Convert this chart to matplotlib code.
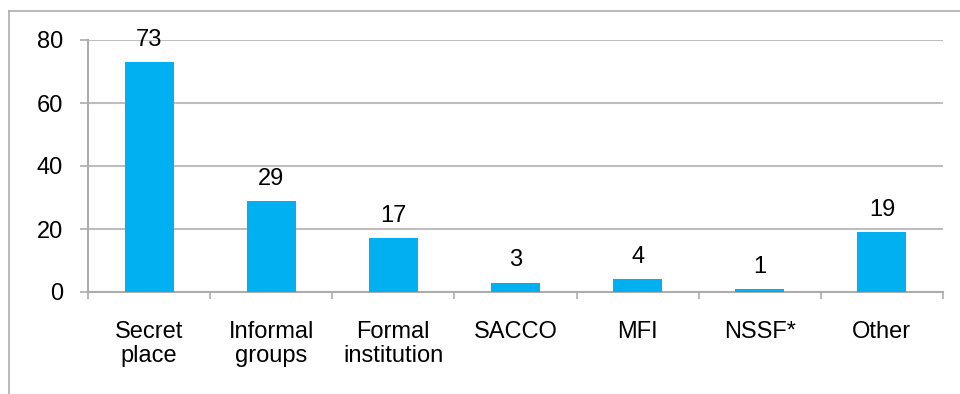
import matplotlib
import numpy as np
import matplotlib.pyplot as plt
from matplotlib.lines import Line2D

matplotlib.use('Agg')

categories = ['Secret\nplace', 'Informal\ngroups', 'Formal\ninstitution', 'SACCO', 'MFI', 'NSSF*', 'Other']
values = [73, 29, 17, 3, 4, 1, 19]
y_ticks = [0, 20, 40, 60, 80]

plt.rcParams['font.family'] = ['Liberation Sans', 'DejaVu Sans']

grey = '#ADADAD'
fs = 17
fig = plt.figure(figsize=(9.6, 3.94), dpi=100)
ax = fig.add_axes([88 / 960, 102 / 394, 855 / 960, 252 / 394])

x = np.arange(len(categories))
bars = ax.bar(x, values, width=0.4, color='#00B0F0', zorder=3)

# подписи значений над столбиками
for b, v in zip(bars, values):
    ax.annotate(str(v), (b.get_x() + b.get_width() / 2, v), xytext=(0, 8),
                textcoords='offset points', ha='center', va='bottom', fontsize=fs)

ax.set_xlim(-0.5, len(categories) - 0.5)
ax.set_ylim(0, 80)
ax.set_yticks(y_ticks)
ax.yaxis.grid(True, color='#BEBEBE', linewidth=1.5, zorder=0)
ax.tick_params(axis='y', length=6, width=1.2, color=grey, labelsize=fs, pad=12)

ax.set_xticks(x)
ax.set_xticklabels(categories, fontsize=fs, linespacing=1.1)
ax.set_xticks(np.arange(-0.5, len(categories)), minor=True)
ax.tick_params(axis='x', which='major', length=0, pad=21)
ax.tick_params(axis='x', which='minor', length=5, width=1.2, color=grey)

for s in ['top', 'right']:
    ax.spines[s].set_visible(False)
for s in ['left', 'bottom']:
    ax.spines[s].set_color(grey)
    ax.spines[s].set_linewidth(1.5)

# рамка области диаграммы (видны только левая и верхняя стороны)
fig.add_artist(Line2D([8.5 / 960, 8.5 / 960], [0, 1 - 10.5 / 394], color=grey, linewidth=1.2))
fig.add_artist(Line2D([8.5 / 960, 1], [1 - 10.5 / 394, 1 - 10.5 / 394], color=grey, linewidth=1.2))

fig.savefig('out.png', dpi=100)
